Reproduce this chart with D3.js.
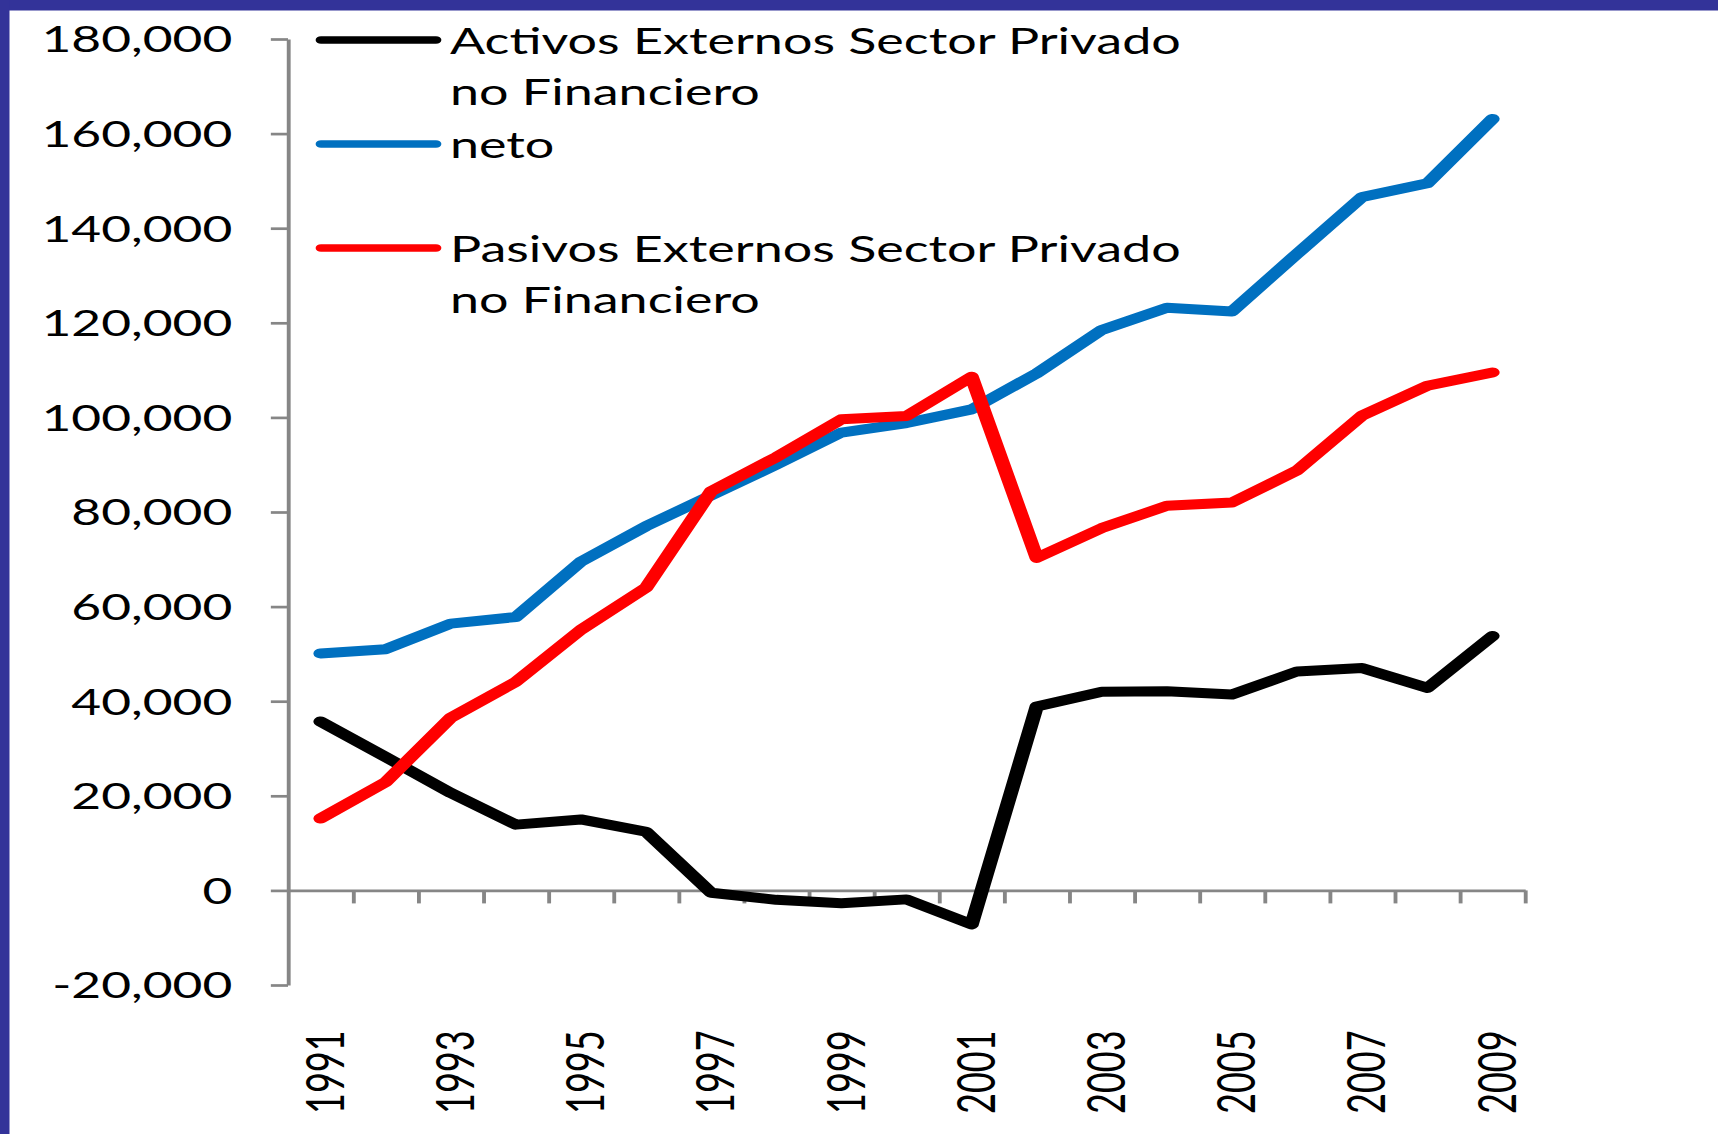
<!DOCTYPE html>
<html>
<head>
<meta charset="utf-8">
<script src="https://cdn.jsdelivr.net/npm/d3@7"></script>
<style>
  html, body { margin: 0; padding: 0; background: #fff; }
  svg { display: block; }
  text { font-family: Lato, "Noto Sans", sans-serif; fill: #000; }
</style>
</head>
<body>
<div id="chart"></div>
<script>
// data (thousands of units)
var years = [1991, 1992, 1993, 1994, 1995, 1996, 1997, 1998, 1999, 2000,
             2001, 2002, 2003, 2004, 2005, 2006, 2007, 2008, 2009];
var activos = [35700, 28200, 20600, 13900, 15000, 12400, -500, -2000, -2700, -1900,
               -7200, 38900, 42000, 42100, 41400, 46300, 47000, 42800, 53800];
var neto = [50100, 51000, 56400, 57800, 69500, 77000, 83500, 90000, 96800, 98800,
            101700, 109300, 118500, 123200, 122400, 134600, 146600, 149500, 163100];
var pasivos = [15200, 22900, 36500, 44100, 55100, 64000, 84400, 91600, 99600, 100300,
               108600, 70300, 76600, 81300, 82000, 88800, 100400, 106700, 109500];
var yTicks = [-20000, 0, 20000, 40000, 60000, 80000, 100000, 120000, 140000, 160000, 180000];
var xLabels = [1991, 1993, 1995, 1997, 1999, 2001, 2003, 2005, 2007, 2009];
var seriesNames = [
  ['Activos Externos Sector Privado', 'no Financiero'],
  ['neto'],
  ['Pasivos Externos Sector Privado', 'no Financiero']
];
var seriesColors = ['#000000', '#0070c0', '#ff0000'];

var width = 1718, height = 1134;
var sx = 1.43; // picture is stretched sideways

var svg = d3.select('#chart').append('svg')
  .attr('width', width)
  .attr('height', height);

svg.append('rect').attr('x', 0).attr('y', 0).attr('width', width).attr('height', 10.5).attr('fill', '#333399');
svg.append('rect').attr('x', 0).attr('y', 0).attr('width', 9.5).attr('height', height).attr('fill', '#333399');

var g = svg.append('g').attr('transform', 'scale(' + sx + ',1)');

var left = 288 / sx, right = 1525 / sx;

var x = d3.scaleBand()
  .domain(years)
  .range([left, right])
  .padding(0);

var xEdge = d3.scaleLinear()
  .domain([0, years.length])
  .range([left, right]);

var y = d3.scaleLinear()
  .domain([-20000, 180000])
  .range([985, 39]);

var fmt = d3.formatLocale({decimal: '.', thousands: ',', grouping: [3], currency: ['', ''], minus: '-'}).format(',');

// y axis
var yAxis = d3.axisLeft(y)
  .tickValues(yTicks)
  .tickFormat(fmt)
  .tickSize(12)
  .tickPadding(27)
  .tickSizeOuter(0);

var yG = g.append('g')
  .attr('transform', 'translate(' + left + ',0)')
  .call(yAxis);
yG.select('.domain').attr('stroke', '#868686').attr('stroke-width', 2.7);
yG.selectAll('.tick line').attr('stroke', '#868686').attr('stroke-width', 2.7);
yG.selectAll('.tick text')
  .attr('dy', '0.36em')
  .style('font-size', '36px')
  .style('font-family', 'Lato, "Noto Sans", sans-serif')
  .attr('fill', '#000');

// x axis: ticks between categories
var xAxis = d3.axisBottom(xEdge)
  .tickValues(d3.range(1, years.length + 1))
  .tickFormat('')
  .tickSize(13)
  .tickSizeOuter(0);

var xG = g.append('g')
  .attr('transform', 'translate(0,' + y(0) + ')')
  .call(xAxis);
xG.select('.domain').attr('stroke', '#868686').attr('stroke-width', 2.7);
xG.selectAll('.tick line').attr('stroke', '#868686').attr('stroke-width', 2.7);

// year labels, rotated
var xLab = d3.axisBottom(x)
  .tickValues(xLabels)
  .tickSize(0)
  .tickSizeOuter(0);

var xlG = g.append('g')
  .attr('transform', 'translate(0,' + y(0) + ')')
  .call(xLab);
xlG.select('.domain').remove();
xlG.selectAll('.tick text')
  .attr('x', 0)
  .attr('y', 0)
  .attr('dy', '0.45em')
  .attr('transform', 'translate(0,140) rotate(-90)')
  .style('text-anchor', 'end')
  .style('font-size', '36px')
  .style('font-family', 'Lato, "Noto Sans", sans-serif')
  .attr('fill', '#000');

// lines
var line = d3.line()
  .x(function(d, i) { return x(years[i]) + x.bandwidth() / 2; })
  .y(function(d) { return y(d); });

var allSeries = [activos, neto, pasivos];

g.append('g')
  .selectAll('path')
  .data(allSeries)
  .enter()
  .append('path')
  .attr('d', line)
  .attr('fill', 'none')
  .attr('stroke', function(d, i) { return seriesColors[i]; })
  .attr('stroke-width', 10)
  .attr('stroke-linejoin', 'round')
  .attr('stroke-linecap', 'round');

// legend
var legend = g.append('g');
var legItem = legend.selectAll('g')
  .data(seriesNames)
  .enter()
  .append('g')
  .attr('transform', function(d, i) { return 'translate(0,' + (40 + i * 104) + ')'; });

legItem.append('line')
  .attr('x1', 321 / sx)
  .attr('x2', 436 / sx)
  .attr('y1', 0)
  .attr('y2', 0)
  .attr('stroke', function(d, i) { return seriesColors[i]; })
  .attr('stroke-width', 7.5)
  .attr('stroke-linecap', 'round');

legItem.append('text')
  .attr('x', 450 / sx)
  .attr('y', 14)
  .style('font-size', '36.4px')
  .selectAll('tspan')
  .data(function(d) { return d; })
  .enter()
  .append('tspan')
  .attr('x', 450 / sx)
  .attr('dy', function(d, i) { return i === 0 ? 0 : 51.5; })
  .text(function(d) { return d; });
</script>
</body>
</html>
